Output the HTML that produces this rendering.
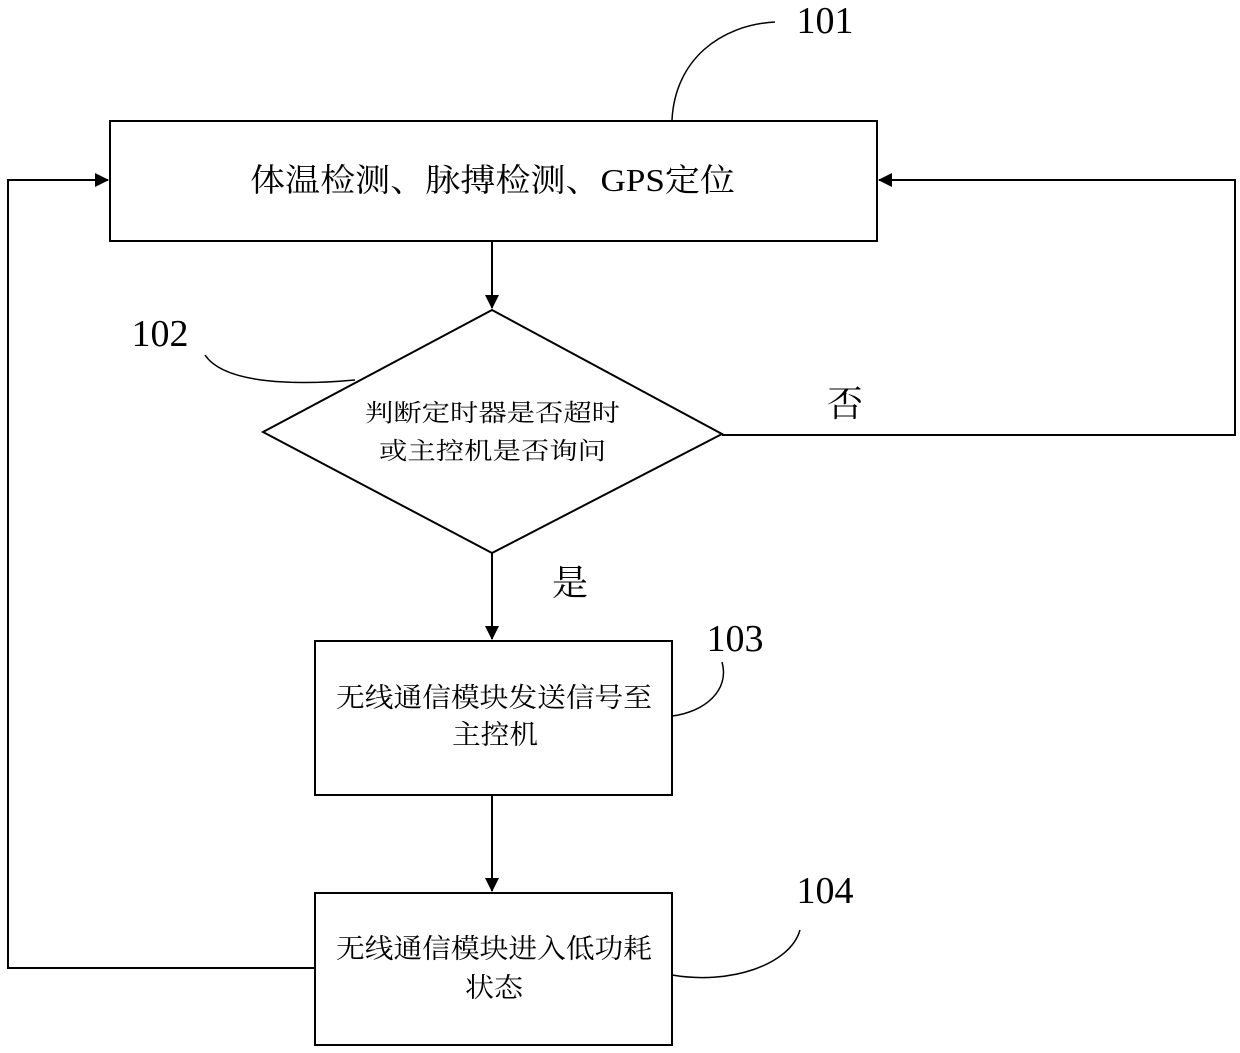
<!DOCTYPE html>
<html><head><meta charset="utf-8"><style>html,body{margin:0;padding:0;background:#fff}svg{display:block}</style></head><body>
<svg width="1240" height="1053" viewBox="0 0 1240 1053" xmlns="http://www.w3.org/2000/svg">
<defs><marker id="a" markerWidth="14" markerHeight="14" refX="13" refY="7" orient="auto" markerUnits="userSpaceOnUse"><path d="M0,0 L14,7 L0,14 Z" fill="#000"/></marker></defs>
<g fill="none" stroke="#000" stroke-width="2">
<rect x="110" y="121" width="767" height="120"/>
<polygon points="492,310 722,434 492,553 263,432"/>
<rect x="315" y="641" width="357" height="154"/>
<rect x="315" y="893" width="357" height="152"/>
<line x1="492" y1="241" x2="492" y2="308" marker-end="url(#a)"/>
<line x1="492" y1="553" x2="492" y2="639" marker-end="url(#a)"/>
<line x1="492" y1="795" x2="492" y2="891" marker-end="url(#a)"/>
<polyline points="722,435 1235,435 1235,180 879,180" marker-end="url(#a)"/>
<polyline points="315,968 8,968 8,180 108,180" marker-end="url(#a)"/>
<path d="M672,120 C675,60 720,25 775,22" stroke-width="1.5"/>
<path d="M205,355 C225,385 300,385 355,380" stroke-width="1.5"/>
<path d="M672,716 C705,712 730,690 722,662" stroke-width="1.5"/>
<path d="M672,975 C730,985 790,965 800,930" stroke-width="1.5"/>
</g>
<g font-family="'Liberation Serif','Noto Serif CJK SC',serif" fill="#000">
<text x="250" y="191" font-size="32" textLength="485" lengthAdjust="spacingAndGlyphs">体温检测、脉搏检测、GPS定位</text>
<text x="365" y="421" font-size="24" textLength="255" lengthAdjust="spacingAndGlyphs">判断定时器是否超时</text>
<text x="379" y="459" font-size="24" textLength="227" lengthAdjust="spacingAndGlyphs">或主控机是否询问</text>
<text x="336" y="707" font-size="27" textLength="316" lengthAdjust="spacingAndGlyphs">无线通信模块发送信号至</text>
<text x="452" y="744" font-size="27" textLength="86" lengthAdjust="spacingAndGlyphs">主控机</text>
<text x="336" y="958" font-size="27" textLength="316" lengthAdjust="spacingAndGlyphs">无线通信模块进入低功耗</text>
<text x="465" y="997" font-size="27" textLength="58" lengthAdjust="spacingAndGlyphs">状态</text>
<g text-anchor="middle">
<text x="845" y="416" font-size="36">否</text>
<text x="570" y="595" font-size="36">是</text>
<text x="825" y="33" font-size="38">101</text>
<text x="160" y="346" font-size="38">102</text>
<text x="735" y="651" font-size="38">103</text>
<text x="825" y="903" font-size="38">104</text>
</g>
</g>
</svg>
</body></html>
